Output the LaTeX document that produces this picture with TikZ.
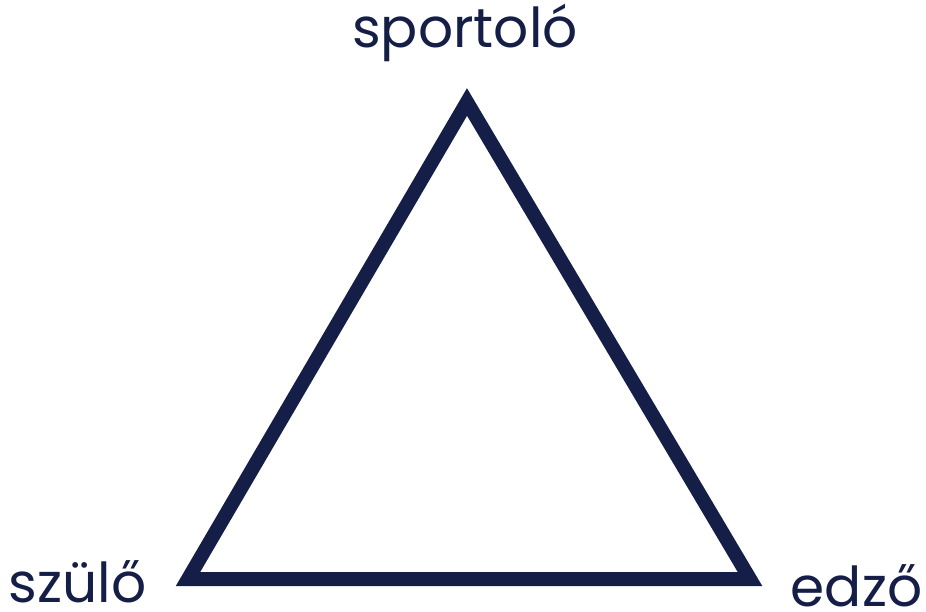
\documentclass[tikz,border=0pt]{standalone}
\usepackage{fontspec}
\setmainfont{Poppins}
\definecolor{navy}{HTML}{141E46}
\begin{document}
\begin{tikzpicture}[x=1pt,y=-1pt,
  lbl/.style={text=navy,font=\fontsize{55}{66}\selectfont,inner sep=0pt,anchor=base}]
\useasboundingbox (0,0) rectangle (926,612);
\coordinate (A) at (467,102);
\coordinate (B) at (188,579);
\coordinate (C) at (750,579);
\draw[navy,line width=14pt,line join=miter] (A) -- (B) -- (C) -- cycle;
\node[lbl] (t) at (465,48) {sportoló};
\node[lbl] (l) at (77.5,602) {szülő};
\node[lbl] (r) at (856.5,606) {edző};
\end{tikzpicture}
\end{document}
